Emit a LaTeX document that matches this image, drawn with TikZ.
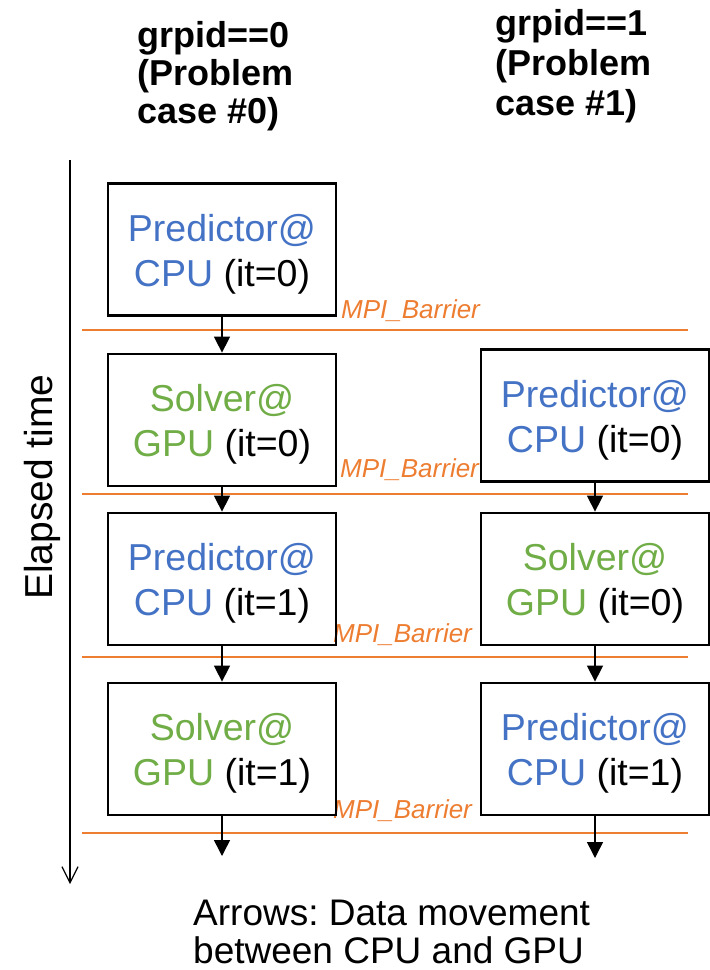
\documentclass[tikz,border=0pt]{standalone}
\usepackage{fontspec}
\setmainfont{Liberation Sans}
\usetikzlibrary{arrows.meta}
\frenchspacing

\definecolor{cpublue}{HTML}{4472C4}
\definecolor{gpugreen}{HTML}{70AD47}
\definecolor{barrierorange}{HTML}{ED7D31}

\newcommand{\predcpu}[1]{\rule{0pt}{36pt}\textcolor{cpublue}{Predictor@}\\\textcolor{cpublue}{CPU} (it=#1)}
\newcommand{\solvgpu}[1]{\rule{0pt}{36pt}\textcolor{gpugreen}{Solver@}\\\textcolor{gpugreen}{GPU} (it=#1)}

\tikzset{
  stepbox/.style={draw, line width=2.8pt, minimum width=228, minimum height=132,
                  align=center, font=\fontsize{37.5}{45}\selectfont},
  barrier/.style={draw=barrierorange, line width=1.2pt},
  barlabel/.style={text=barrierorange, anchor=base west, inner sep=0,
                   font=\fontsize{26}{26}\selectfont\itshape},
  flow/.style={-{Triangle[length=16pt,width=16pt]}, line width=1.5pt},
  header/.style={anchor=base west, inner sep=0, font=\fontsize{36}{38}\selectfont\bfseries}
}

\begin{document}
\begin{tikzpicture}[x=1pt, y=-1pt]
  \useasboundingbox (0,0) rectangle (710,970);

  % group headers
  \node[header] (g0a) at (137,47)  {grpid==0};
  \node[header] (g0b) at (137,85)  {(Problem};
  \node[header] (g0c) at (137,123) {case \#0)};
  \node[header] (g1a) at (495,35)  {grpid==1};
  \node[header] (g1b) at (495,75)  {(Problem};
  \node[header] (g1c) at (495,115) {case \#1)};

  % time axis
  \coordinate (ttop) at (70,160);
  \coordinate (tbot) at (70,884);
  \draw[line width=1.2pt, -{Straight Barb[length=16pt,width=16pt]}] (ttop) -- (tbot);
  \node[rotate=90, anchor=base, inner sep=0, font=\fontsize{39}{39}\selectfont] (elapsed) at (52,487) {Elapsed time};

  % barriers
  \foreach \y in {330,494,657,833}
    \draw[barrier] (82,\y) -- (688,\y);
  \node[barlabel] (b1) at (341,318) {MPI\_Barrier};
  \node[barlabel] (b2) at (340,477) {MPI\_Barrier};
  \node[barlabel] (b3) at (333,642) {MPI\_Barrier};
  \node[barlabel] (b4) at (333,818) {MPI\_Barrier};

  % problem case #0
  \node[stepbox] (p00) at (222,249.5) {\predcpu{0}};
  \node[stepbox] (s00) at (222,420)   {\solvgpu{0}};
  \node[stepbox] (p01) at (222,579)   {\predcpu{1}};
  \node[stepbox] (s01) at (222,749)   {\solvgpu{1}};
  \coordinate (end0) at (222,856);

  % problem case #1
  \node[stepbox] (p10) at (595,415.5) {\predcpu{0}};
  \node[stepbox] (s10) at (595,579)   {\solvgpu{0}};
  \node[stepbox] (p11) at (595,749)   {\predcpu{1}};
  \coordinate (end1) at (595,858);

  % data movement
  \draw[flow] (p00) -- (s00);
  \draw[flow] (s00) -- (p01);
  \draw[flow] (p01) -- (s01);
  \draw[flow] (s01) -- (end0);
  \draw[flow] (p10) -- (s10);
  \draw[flow] (s10) -- (p11);
  \draw[flow] (p11) -- (end1);

  \node[anchor=base west, inner sep=0, align=left, font=\fontsize{37}{38}\selectfont] (note) at (193,963)
    {Arrows: Data movement\\between CPU and GPU};
\end{tikzpicture}
\end{document}
